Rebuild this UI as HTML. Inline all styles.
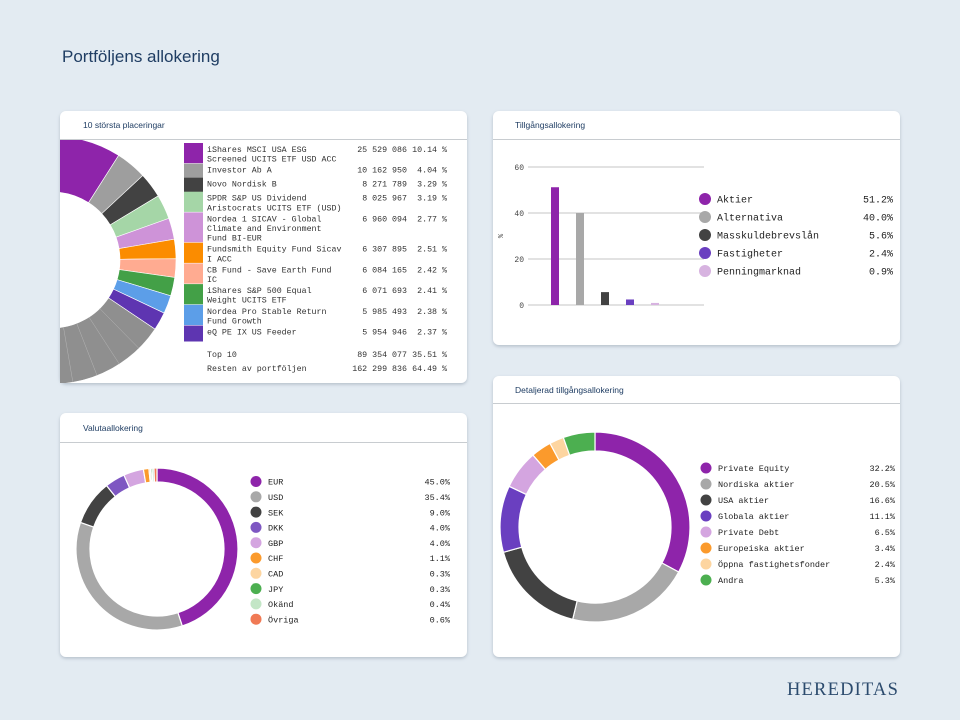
<!DOCTYPE html>
<html><head><meta charset="utf-8">
<style>
html,body{margin:0;padding:0;background:#e3ebf2;}
svg{display:block;}
.mono{font-family:"Liberation Mono",monospace;}
.sans{font-family:"Liberation Sans",sans-serif;}
</style></head>
<body>
<svg id="page" width="960" height="720" viewBox="0 0 960 720" xmlns="http://www.w3.org/2000/svg">
<defs>
<filter id="sh" x="-5%" y="-5%" width="110%" height="115%"><feDropShadow dx="0" dy="1.5" stdDeviation="1.5" flood-color="#7a8a9a" flood-opacity="0.45"/></filter>
<clipPath id="clipTL"><rect x="60" y="140" width="407" height="243" rx="0"/></clipPath>
</defs>
<rect width="960" height="720" fill="#e3ebf2"/>
<text x="62" y="62" class="sans" font-size="17" fill="#1f3d63">Portföljens allokering</text>
<text x="787" y="695" font-family="Liberation Serif,serif" font-size="18.5" letter-spacing="1.2" fill="#2c4b6e">HEREDITAS</text>

<g>
<rect x="60" y="111" width="407" height="272" rx="6" fill="#fff" filter="url(#sh)"/>
<text x="83" y="128" class="sans" font-size="8.5" fill="#1f3d63">10 största placeringar</text>
<line x1="60" y1="139.5" x2="467" y2="139.5" stroke="#c8ccd0"/>
<g id="tlDonut" clip-path="url(#clipTL)"></g>
<g id="tlTable"></g>
</g>

<g>
<rect x="493" y="111" width="407" height="234" rx="6" fill="#fff" filter="url(#sh)"/>
<text x="515" y="128" class="sans" font-size="8.5" fill="#1f3d63">Tillgångsallokering</text>
<line x1="493" y1="139.5" x2="900" y2="139.5" stroke="#c8ccd0"/>
<g id="bars"></g>
</g>

<g>
<rect x="60" y="413" width="407" height="244" rx="6" fill="#fff" filter="url(#sh)"/>
<text x="83" y="431" class="sans" font-size="8.5" fill="#1f3d63">Valutaallokering</text>
<line x1="60" y1="442.5" x2="467" y2="442.5" stroke="#c8ccd0"/>
<g id="cur"></g>
</g>

<g>
<rect x="493" y="376" width="407" height="281" rx="6" fill="#fff" filter="url(#sh)"/>
<text x="515" y="393" class="sans" font-size="8.5" fill="#1f3d63">Detaljerad tillgångsallokering</text>
<line x1="493" y1="403.5" x2="900" y2="403.5" stroke="#c8ccd0"/>
<g id="det"></g>
</g>
</svg>
<script>
// ---- data ----
const holdingNames = [["iShares MSCI USA ESG","Screened UCITS ETF USD ACC"],["Investor Ab A"],["Novo Nordisk B"],["SPDR S&P US Dividend","Aristocrats UCITS ETF (USD)"],["Nordea 1 SICAV - Global","Climate and Environment","Fund BI-EUR"],["Fundsmith Equity Fund Sicav","I ACC"],["CB Fund - Save Earth Fund","IC"],["iShares S&P 500 Equal","Weight UCITS ETF"],["Nordea Pro Stable Return","Fund Growth"],["eQ PE IX US Feeder"]];
const holdingAmounts = ["25 529 086","10 162 950","8 271 789","8 025 967","6 960 094","6 307 895","6 084 165","6 071 693","5 985 493","5 954 946"];
const holdingPct = [10.14,4.04,3.29,3.19,2.77,2.51,2.42,2.41,2.38,2.37];
const holdingColors = ["#8e24aa","#9e9e9e","#424242","#a5d6a7","#ce93d8","#fb8c00","#ffab91","#43a047","#5c9ee8","#5e35b1"];
const summaryLabels = ["Top 10","Resten av portföljen"];
const summaryAmounts = ["89 354 077","162 299 836"];
const summaryPct = [35.51,64.49];

const assetCats = ["Aktier","Alternativa","Masskuldebrevslån","Fastigheter","Penningmarknad"];
const assetVals = [51.2,40.0,5.6,2.4,0.9];
const assetColors = ["#8e24aa","#a8a8a8","#424242","#6a3fc0","#d7b3e0"];
const assetTicks = [0,20,40,60];

const curCats = ["EUR","USD","SEK","DKK","GBP","CHF","CAD","JPY","Okänd","Övriga"];
const curVals = [45.0,35.4,9.0,4.0,4.0,1.1,0.3,0.3,0.4,0.6];
const curColors = ["#8e24aa","#a8a8a8","#424242","#7e57c2","#d4a5e0","#fb9a2c","#fdd5a0","#4caf50","#c3e6c6","#f07a55"];

const detCats = ["Private Equity","Nordiska aktier","USA aktier","Globala aktier","Private Debt","Europeiska aktier","Öppna fastighetsfonder","Andra"];
const detVals = [32.2,20.5,16.6,11.1,6.5,3.4,2.4,5.3];
const detColors = ["#8e24aa","#a8a8a8","#424242","#6a3fc0","#d4a5e0","#fb9a2c","#fdd5a0","#4caf50"];

const NS="http://www.w3.org/2000/svg";
function mk(tag,attrs,parent,text){const e=document.createElementNS(NS,tag);for(const k in attrs)e.setAttribute(k,attrs[k]);if(text!==undefined)e.textContent=text;parent.appendChild(e);return e;}
function arcPath(cx,cy,r0,r1,a0,a1){
  const t=d=>(d-90)*Math.PI/180;const lg=(a1-a0)>180?1:0;
  const p=(r,a)=>[cx+r*Math.cos(t(a)),cy+r*Math.sin(t(a))];
  const [x0,y0]=p(r1,a0),[x1,y1]=p(r1,a1),[x2,y2]=p(r0,a1),[x3,y3]=p(r0,a0);
  return `M${x0} ${y0}A${r1} ${r1} 0 ${lg} 1 ${x1} ${y1}L${x2} ${y2}A${r0} ${r0} 0 ${lg} 0 ${x3} ${y3}Z`;
}

// ---- top holdings donut ----
(function(){
  const g=document.getElementById('tlDonut');
  const cx=52,cy=260,r0=68,r1=124;let a=-4;
  holdingPct.forEach((v,i)=>{const s=v*3.6;
    const p=mk('path',{d:arcPath(cx,cy,r0,r1,a,a+s),fill:holdingColors[i],stroke:'#fff','stroke-width':0.6},g);
    
    
    a+=s;});
  const s=summaryPct[1]*3.6;
  const rp=mk('path',{d:arcPath(cx,cy,r0,r1,a,a+s),fill:'#8f8f8f',stroke:'#fff','stroke-width':0.6},g);
  
  
  for(let k=1;k<20;k++){const ang=(a+k*s/20-90)*Math.PI/180;
    const l=mk('line',{x1:cx+r0*Math.cos(ang),y1:cy+r0*Math.sin(ang),x2:cx+r1*Math.cos(ang),y2:cy+r1*Math.sin(ang),stroke:'#b5b5b5','stroke-width':0.5},g);
    
    }
})();

// ---- top holdings table ----
(function(){
  const g=document.getElementById('tlTable');
  const lh=9.6;let y=146;const fs=8.3;
  holdingNames.forEach((lines,i)=>{
    const h=Math.max(lines.length*lh+1,14);
    const r=mk('rect',{x:184,y:y-3,width:19,height:h+(lines.length>1?0:2),fill:holdingColors[i]},g);
    
    
    lines.forEach((ln,j)=>{const t=mk('text',{x:207,y:y+6+j*lh,'font-size':fs,fill:'#333',class:'mono'},g,ln);
      
      });
    const n=mk('text',{x:407,y:y+6,'font-size':fs,fill:'#333',class:'mono','text-anchor':'end'},g,holdingAmounts[i]);
    
    
    const p=mk('text',{x:447,y:y+6,'font-size':fs,fill:'#333',class:'mono','text-anchor':'end'},g,holdingPct[i].toFixed(2)+' %');
    
    
    y+=(lines.length>1?lines.length*lh+1.5:14);
  });
  const sy=[357,371];
  summaryLabels.forEach((l,i)=>{
    const a=mk('text',{x:207,y:sy[i],'font-size':fs,fill:'#333',class:'mono'},g,l);
    
    
    const b=mk('text',{x:407,y:sy[i],'font-size':fs,fill:'#333',class:'mono','text-anchor':'end'},g,summaryAmounts[i]);
    
    
    const c=mk('text',{x:447,y:sy[i],'font-size':fs,fill:'#333',class:'mono','text-anchor':'end'},g,summaryPct[i].toFixed(2)+' %');
    
    
  });
})();

// ---- bar chart ----
(function(){
  const g=document.getElementById('bars');
  const y0=305,yTop=167,maxV=60;const yS=v=>y0-(v/maxV)*(y0-yTop);
  assetTicks.forEach(t=>{
    const l=mk('line',{x1:528,x2:704,y1:yS(t),y2:yS(t),stroke:'#c4c4c4','stroke-width':1},g);
    
    
    const tx=mk('text',{x:524,y:yS(t)+3,'font-size':8,fill:'#444',class:'mono','text-anchor':'end'},g,String(t));
    
    
  });
  const yt=mk('text',{x:0,y:0,'font-size':7,fill:'#444',class:'mono',transform:'translate(503,236) rotate(-90)','text-anchor':'middle'},g,'%');
  
  
  const step=25,x0=555;
  assetVals.forEach((v,i)=>{
    const cx=x0+i*step;
    const b=mk('rect',{x:cx-4,y:yS(v),width:8,height:y0-yS(v),fill:assetColors[i]},g);
    
    
    const dy=199+i*18;
    const d=mk('circle',{cx:705,cy:dy,r:6,fill:assetColors[i]},g);
    
    
    const t=mk('text',{x:717,y:dy+3.5,'font-size':10,fill:'#222',class:'mono'},g,assetCats[i]);
    
    
    const p=mk('text',{x:893,y:dy+3.5,'font-size':10,fill:'#222',class:'mono','text-anchor':'end'},g,v.toFixed(1)+'%');
    
    
  });
})();

// ---- donut helper ----
function donut(gid,cats,vals,colors,cx,cy,r0,r1,lx,lv,ly,lstep,fs,name){
  const g=document.getElementById(gid);
  const tot=vals.reduce((a,b)=>a+b,0);let a=0;
  vals.forEach((v,i)=>{const s=v/tot*360;
    const p=mk('path',{d:arcPath(cx,cy,r0,r1,a,a+s),fill:colors[i],stroke:'#fff','stroke-width':1.2},g);
    
    
    a+=s;
    const y=ly+i*lstep;
    const d=mk('circle',{cx:lx,cy:y,r:5.5,fill:colors[i]},g);
    
    
    const t=mk('text',{x:lx+12,y:y+3.2,'font-size':fs,fill:'#222',class:'mono'},g,cats[i]);
    
    
    const q=mk('text',{x:lv,y:y+3.2,'font-size':fs,fill:'#222',class:'mono','text-anchor':'end'},g,v.toFixed(1)+'%');
    
    
  });
}
donut('cur',curCats,curVals,curColors,157,549,67,81,256,450,481.5,15.3,8.5,'currency');
donut('det',detCats,detVals,detColors,595,527,76,95,706,895,468,16,8.5,'asset-detail');
</script>
</body></html>
